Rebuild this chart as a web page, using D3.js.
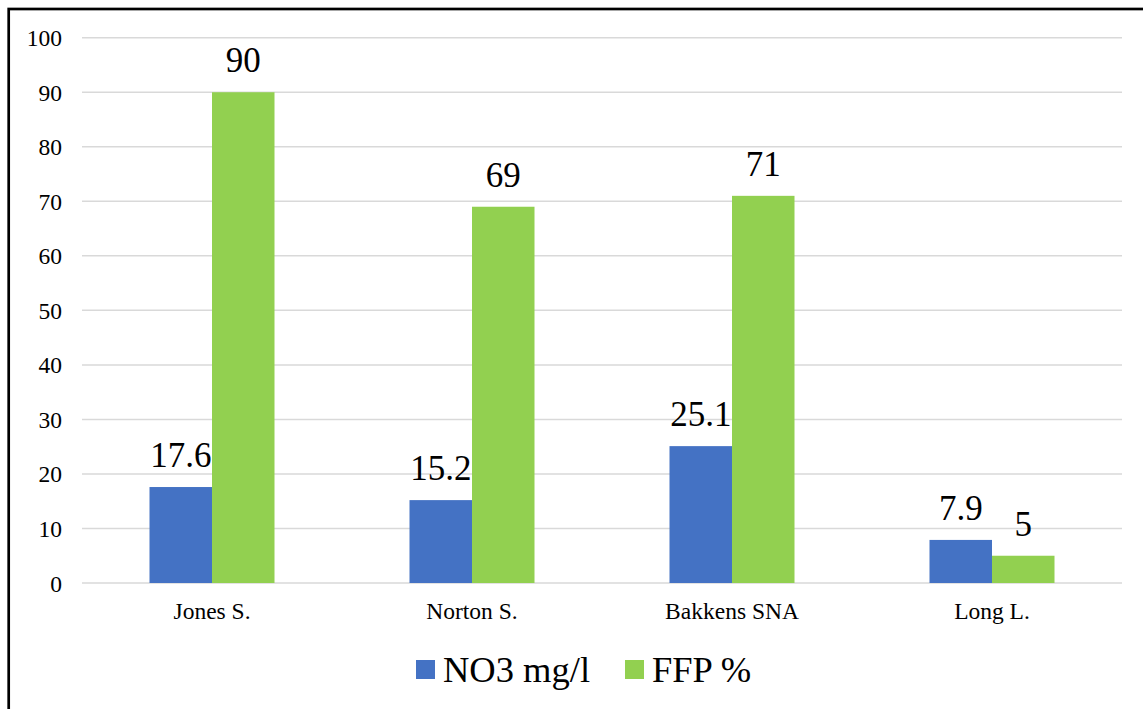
<!DOCTYPE html>
<html><head><meta charset="utf-8">
<script src="https://cdn.jsdelivr.net/npm/d3@7"></script>
<style>body{margin:0;background:#fff}svg{display:block}
svg text{font-family:"Liberation Serif","Times New Roman",Times,"DejaVu Serif",serif !important;}</style>
</head><body>
<svg id="c" width="1143" height="709"></svg>
<script>
const categories = ["Jones S.", "Norton S.", "Bakkens SNA", "Long L."];
const no3 = [17.6, 15.2, 25.1, 7.9];
const ffp = [90, 69, 71, 5];
const seriesNames = ["NO3 mg/l", "FFP %"];
const seriesColors = ["#4472C4", "#92D050"];
const yTicks = [0, 10, 20, 30, 40, 50, 60, 70, 80, 90, 100];

const svg = d3.select("#c");

svg.append("rect").attr("x", 8.7).attr("y", 9).attr("width", 1200).attr("height", 800)
  .attr("fill", "none").attr("stroke", "#000").attr("stroke-width", 2.7);

const x = d3.scaleBand().domain(categories).range([82, 1122]);
const y = d3.scaleLinear().domain([0, 100]).range([583, 37.7]);
const inner = d3.scaleBand().domain([0, 1]).range([0, 125]);
const off = (x.bandwidth() - 125) / 2;

svg.append("g").selectAll("line").data(yTicks).join("line")
  .attr("x1", 82).attr("x2", 1122)
  .attr("y1", d => y(d)).attr("y2", d => y(d))
  .attr("stroke", "#d9d9d9").attr("stroke-width", 1.5);

const yAxis = d3.axisLeft(y).tickValues(yTicks).tickSize(0).tickPadding(0);
const ga = svg.append("g").attr("transform", "translate(62,0)").call(yAxis);
ga.select(".domain").remove();
ga.selectAll("text").attr("font-size", 23.5).attr("fill", "#000").attr("dy", "0.34em");

const xAxis = d3.axisBottom(x).tickSize(0).tickPadding(0);
const gx = svg.append("g").attr("transform", "translate(0,619)").call(xAxis);
gx.select(".domain").remove();
gx.selectAll("text").attr("font-size", 23.5).attr("fill", "#000").attr("dy", "0");

const series = [no3, ffp];
series.forEach((vals, si) => {
  const g = svg.append("g");
  g.selectAll("rect").data(vals).join("rect")
    .attr("x", (d, i) => x(categories[i]) + off + inner(si))
    .attr("y", d => y(d))
    .attr("width", inner.bandwidth())
    .attr("height", d => y(0) - y(d))
    .attr("fill", seriesColors[si]);
  g.selectAll("text").data(vals).join("text")
    .attr("x", (d, i) => x(categories[i]) + off + inner(si) + inner.bandwidth() / 2)
    .attr("y", d => y(d) - 20)
    .attr("text-anchor", "middle")
    .attr("font-size", 35).attr("fill", "#000")
    .text(d => d);
});

const legX = [416, 625];
seriesNames.forEach((n, i) => {
  svg.append("rect").attr("x", legX[i]).attr("y", 660).attr("width", 19).attr("height", 19).attr("fill", seriesColors[i]);
  svg.append("text").attr("x", legX[i] + 27).attr("y", 682)
    .attr("font-size", 36.5).attr("fill", "#000").text(n);
});
</script>
</body></html>
